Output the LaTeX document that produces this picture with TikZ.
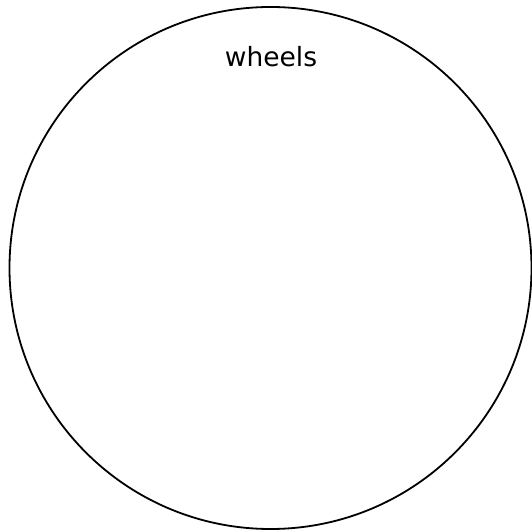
\documentclass[tikz,border=0pt]{standalone}
\usepackage{fontspec}
\setmainfont{DejaVu Sans}
\begin{document}
\begin{tikzpicture}[x=1pt,y=1pt,
  wheel/.style={draw=black,line width=1.8pt,circle,minimum size=522pt,inner sep=0pt},
  lbl/.style={font=\fontsize{26.5}{30}\selectfont,inner sep=0pt}]
\useasboundingbox (0,0) rectangle (532,532);
\node[wheel] (w) at (270.5,264) {};
\node[lbl] (t) at (271,475) {wheels};
\end{tikzpicture}
\end{document}
